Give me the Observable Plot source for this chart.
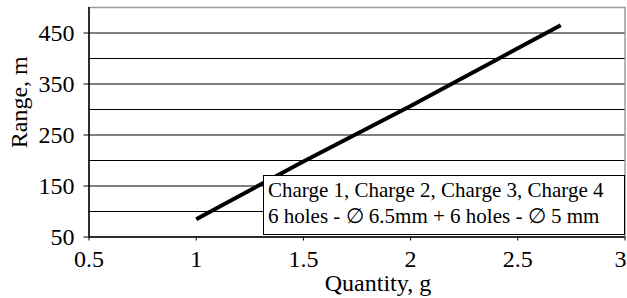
<!DOCTYPE html>
<html>
<head>
<meta charset="utf-8">
<script src="https://cdn.jsdelivr.net/npm/d3@7"></script>
<script src="https://cdn.jsdelivr.net/npm/@observablehq/plot@0.6"></script>
<style>
  body { margin: 0; background: #fff; }
  #wrap { position: relative; width: 627px; height: 298px; font-family: "Liberation Serif", "Times New Roman", serif; }
  #legend {
    position: absolute; left: 263px; top: 175px; width: 356px; height: 57px;
    border: 1px solid #000; background: #fff; padding: 1px 0 0 4px;
    font-size: 21px; line-height: 26px; color: #000; white-space: nowrap;
    font-family: "Liberation Serif", "Times New Roman", serif;
  }
</style>
</head>
<body>
<div id="wrap"><div id="legend"></div></div>
<script>
// Data
const quantity = [1, 1.5, 2, 2.5, 2.7];          // g
const range    = [85, 198, 307, 420, 465];       // m
const xTicks   = [0.5, 1, 1.5, 2, 2.5, 3];
const xEdgeTick = [3];
const yTicks   = [50, 150, 250, 350, 450];
const yGrid    = [100, 150, 200, 250, 300, 350, 400, 450];
const xLabel   = "Quantity, g";
const yLabel   = "Range, m";
const legendLines = [
  "Charge 1, Charge 2, Charge 3, Charge 4",
  "6 holes - \u2205 6.5mm + 6 holes - \u2205 5 mm"
];

const data = quantity.map((q, i) => ({q, r: range[i]}));
const serif = '"Liberation Serif", "Times New Roman", serif';
const fs = 24;

const chart = Plot.plot({
  width: 627,
  height: 298,
  marginLeft: 88.5,
  marginRight: 2.5,
  marginTop: 7,
  marginBottom: 61.5,
  style: { fontFamily: serif, fontSize: fs + "px", color: "#000", background: "#fff" },
  x: { domain: [0.5, 3] },
  y: { domain: [50, 500] },
  marks: [
    Plot.frame({ stroke: "#9a9a9a", strokeWidth: 1.5 }),
    Plot.ruleY(yGrid, { stroke: "#000", strokeWidth: 1 }),
    Plot.axisX({ ticks: xTicks, tickSize: 4, tickPadding: 8.5, label: null,
                 tickFormat: d => xEdgeTick.includes(d) ? "" : String(d),
                 stroke: "#000", fontFamily: serif, fontSize: fs, fontVariant: "normal" }),
    Plot.text(xEdgeTick, { x: d => d, text: d => String(d), frameAnchor: "bottom", lineAnchor: "top",
                 textAnchor: "end", dx: 1.5, dy: 12.5, fill: "#000", fontFamily: serif, fontSize: fs }),
    Plot.axisY({ ticks: yTicks, tickSize: 5, tickPadding: 9.5, label: null, tickFormat: d => String(d),
                 stroke: "#000", fontFamily: serif, fontSize: fs, fontVariant: "normal" }),
    Plot.ruleX([0.5], { stroke: "#000", strokeWidth: 1.5 }),
    Plot.ruleY([50], { stroke: "#000", strokeWidth: 1.5 }),
    Plot.line(data, { x: "q", y: "r", stroke: "#000", strokeWidth: 4, strokeLinecap: "butt" }),
    Plot.text([xLabel], { frameAnchor: "bottom", lineAnchor: "middle", textAnchor: "middle", dx: 21, dy: 46.5, fill: "#000", fontFamily: serif, fontSize: fs }),
    Plot.text([yLabel], { frameAnchor: "left", lineAnchor: "middle", textAnchor: "middle", rotate: -90, dx: -70, dy: -20, fill: "#000", fontFamily: serif, fontSize: fs })
  ]
});

const wrap = document.getElementById("wrap");
wrap.insertBefore(chart, wrap.firstChild);
const legend = document.getElementById("legend");
legendLines.forEach(t => { const d = document.createElement("div"); d.textContent = t; legend.appendChild(d); });
</script>
</body>
</html>
